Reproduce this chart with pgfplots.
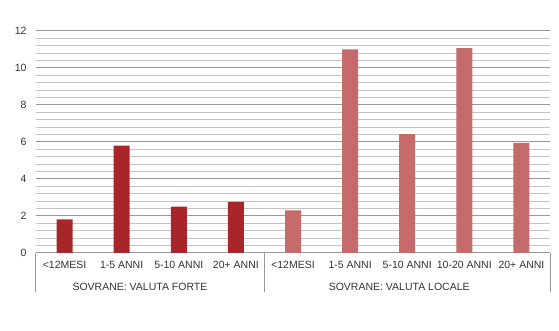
\documentclass[border=0pt]{standalone}
\usepackage{pgfplots}
\pgfplotsset{compat=1.18}
\usepackage{fontspec}
\setmainfont{Liberation Sans}
\definecolor{forte}{HTML}{A8262A}
\definecolor{locale}{HTML}{C56B6B}
\definecolor{majg}{HTML}{989898}
\definecolor{ming}{HTML}{C4C4C4}
\definecolor{txt}{HTML}{333333}
\begin{document}
\begin{tikzpicture}[x=1pt,y=1pt]
\useasboundingbox (0,0) rectangle (559,331);
\begin{axis}[
  at={(36pt,78pt)}, anchor=south west,
  scale only axis, width=514pt, height=222pt,
  xmin=-0.5, xmax=8.5, ymin=0, ymax=12,
  ybar, bar width=16pt, bar shift=0pt,
  axis line style={draw=none},
  xtick={0,1,2,3,4,5,6,7,8},
  xticklabels={{<12MESI},{1-5 ANNI},{5-10 ANNI},{20+ ANNI},{<12MESI},{1-5 ANNI},{5-10 ANNI},{10-20 ANNI},{20+ ANNI}},
  ytick={0,2,4,6,8,10,12},
  minor y tick num=4,
  ymajorgrids, yminorgrids,
  major grid style={majg, line width=1pt},
  minor grid style={ming, line width=1pt},
  major tick length=0pt, minor tick length=0pt,
  tick label style={font=\fontsize{10.5}{12}\selectfont, text=txt},
  /pgf/number format/assume math mode=true,
  yticklabel style={xshift=-6pt},
  xticklabel style={yshift=-5pt},
  clip=false,
]
\addplot[fill=forte, draw=none] coordinates {(0,1.82) (1,5.80) (2,2.50) (3,2.77)};
\addplot[fill=locale, draw=none] coordinates {(4,2.31) (5,11.01) (6,6.43) (7,11.08) (8,5.95)};
\draw[majg, line width=1pt] (axis cs:-0.5,0) -- ([yshift=-39pt]axis cs:-0.5,0);
\draw[majg, line width=1pt] (axis cs:3.5,0) -- ([yshift=-39pt]axis cs:3.5,0);
\draw[majg, line width=1pt] (axis cs:8.5,0) -- ([yshift=-39pt]axis cs:8.5,0);
\node[font=\fontsize{10.5}{12}\selectfont, text=txt] at ([yshift=-34pt]axis cs:1.32,0) {SOVRANE: VALUTA FORTE};
\node[font=\fontsize{10.5}{12}\selectfont, text=txt] at ([yshift=-34pt]axis cs:5.86,0) {SOVRANE: VALUTA LOCALE};
\end{axis}
\end{tikzpicture}
\end{document}
